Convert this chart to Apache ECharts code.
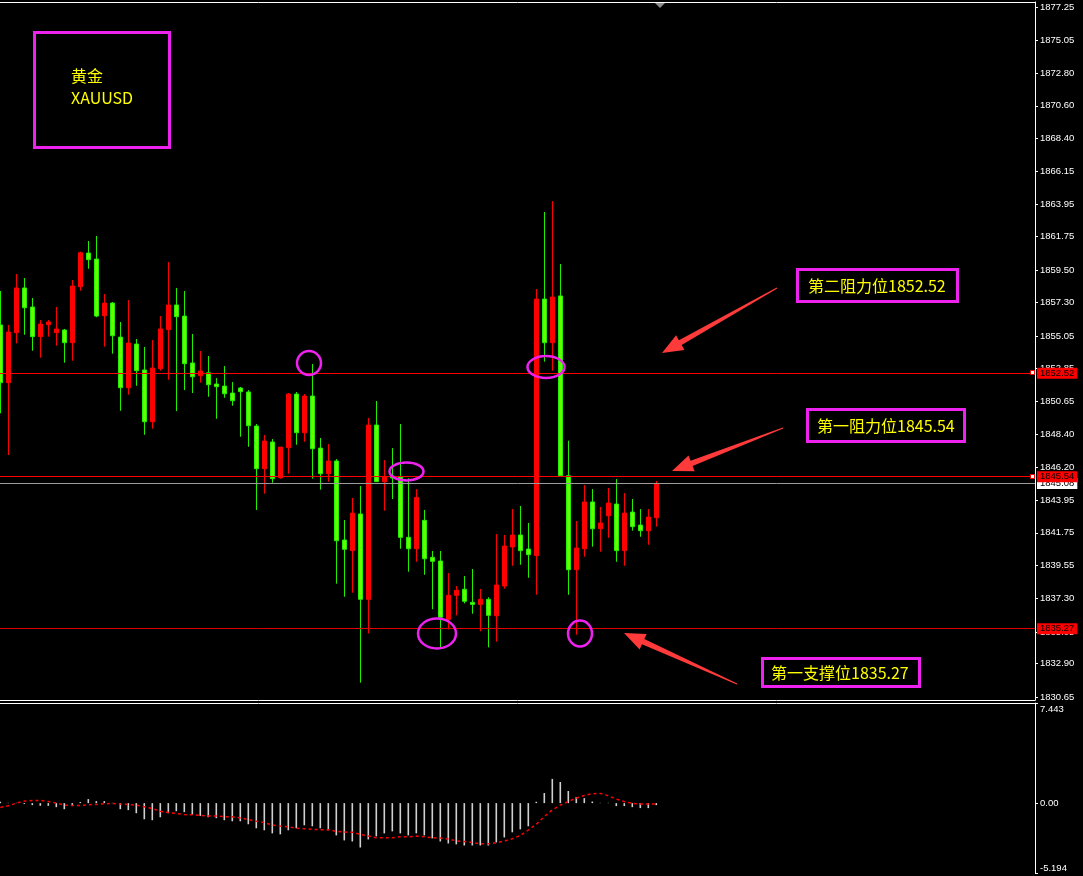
<!DOCTYPE html>
<html><head><meta charset="utf-8">
<script src="https://cdn.jsdelivr.net/npm/echarts@6/dist/echarts.min.js"></script>
<style>html,body{margin:0;padding:0;background:#000;overflow:hidden}#c{width:1083px;height:876px}</style>
</head><body><div id="c"></div>
<script>
// ---- data (price in USD) ----
const opens  = [1855.79,1851.89,1855.27,1858.29,1857.00,1855.00,1855.81,1855.27,1855.45,1854.59,
                1858.37,1860.65,1860.24,1856.41,1857.27,1854.97,1851.55,1854.50,1852.75,1849.25,
                1852.83,1855.47,1857.14,1856.39,1853.22,1852.36,1852.56,1851.80,1851.66,1851.19,
                1851.53,1851.26,1848.96,1846.08,1847.88,1845.47,1847.50,1851.12,1848.51,1850.99,
                1847.47,1845.74,1846.60,1841.26,1840.54,1843.02,1837.25,1849.03,1845.20,1845.58,
                1845.52,1841.44,1840.67,1842.59,1840.09,1839.84,1835.90,1837.52,1837.93,1837.05,
                1836.91,1837.25,1836.14,1838.15,1840.79,1841.60,1840.65,1840.20,1857.54,1854.59,
                1857.75,1845.60,1839.25,1840.67,1843.83,1842.02,1842.90,1843.69,1840.54,1843.15,
                1842.27,1841.89,1842.77];
const closes = [1851.89,1855.31,1858.29,1856.95,1855.00,1855.85,1855.99,1855.52,1854.59,1858.42,
                1860.67,1860.20,1856.39,1857.27,1855.06,1851.55,1854.57,1852.70,1849.25,1852.88,
                1855.52,1857.14,1856.35,1853.17,1852.29,1852.68,1851.75,1851.62,1851.14,1850.67,
                1851.28,1848.98,1846.08,1847.95,1845.40,1847.54,1851.12,1848.51,1850.99,1847.43,
                1845.74,1846.60,1841.21,1840.63,1843.08,1837.25,1849.03,1845.20,1845.54,1845.45,
                1841.44,1840.67,1844.14,1839.99,1839.82,1836.04,1837.52,1837.86,1837.12,1836.91,
                1837.25,1836.17,1838.22,1840.85,1841.60,1840.54,1840.27,1857.54,1854.59,1857.68,
                1845.60,1839.25,1840.72,1843.83,1842.02,1842.41,1843.76,1840.54,1843.08,1842.16,
                1841.89,1842.81,1845.08];
const lows   = [1849.82,1847.00,1854.55,1855.13,1854.05,1853.58,1855.00,1854.39,1853.24,1853.37,
                1858.10,1859.59,1856.31,1854.32,1853.85,1849.99,1851.08,1851.68,1848.37,1848.78,
                1852.70,1852.09,1849.97,1851.39,1851.19,1851.89,1850.94,1849.45,1850.87,1850.33,
                1848.24,1847.56,1843.29,1844.39,1845.13,1845.40,1845.74,1847.70,1847.90,1845.40,
                1844.66,1845.20,1838.31,1837.43,1837.70,1831.62,1834.95,1845.20,1843.24,1844.03,
                1840.67,1839.12,1839.79,1838.91,1836.58,1834.01,1835.22,1836.17,1836.98,1836.28,
                1835.09,1834.01,1834.39,1837.97,1839.52,1839.59,1838.71,1837.56,1853.31,1852.70,
                1845.60,1837.56,1834.86,1840.13,1840.81,1840.47,1841.41,1839.79,1839.52,1841.89,
                1841.48,1840.94,1842.16];
const highs  = [1858.08,1855.79,1859.23,1858.96,1857.61,1856.12,1856.12,1857.00,1855.52,1858.83,
                1860.74,1861.46,1861.80,1857.88,1857.34,1855.99,1857.47,1854.84,1854.30,1854.77,
                1856.39,1860.04,1858.29,1858.08,1855.18,1854.03,1853.69,1852.20,1853.01,1851.93,
                1851.60,1851.39,1849.10,1848.35,1848.08,1847.54,1851.19,1851.26,1851.12,1853.15,
                1848.15,1847.74,1846.73,1842.61,1844.10,1844.91,1849.50,1850.65,1846.66,1847.47,
                1849.10,1845.43,1844.70,1843.29,1840.52,1840.52,1839.03,1838.15,1838.83,1839.30,
                1837.95,1837.39,1841.66,1841.60,1843.35,1843.56,1842.41,1858.22,1863.42,1864.16,
                1859.91,1847.97,1842.54,1844.97,1844.70,1843.49,1844.77,1845.38,1844.43,1844.03,
                1843.35,1843.35,1845.25];
const macdHist = [0.10,0.02,0.02,-0.07,-0.15,-0.20,-0.20,-0.30,-0.45,-0.22,
                  0.08,0.30,0.15,0.15,0.02,-0.45,-0.52,-0.75,-1.20,-1.27,
                  -1.05,-0.75,-0.60,-0.67,-0.85,-0.95,-1.05,-1.12,-1.27,-1.35,
                  -1.35,-1.57,-1.87,-2.02,-2.25,-2.32,-2.02,-1.87,-1.65,-1.72,
                  -1.87,-2.02,-2.40,-2.77,-2.85,-3.30,-2.70,-2.47,-2.25,-2.10,
                  -2.25,-2.40,-2.25,-2.40,-2.62,-2.85,-3.00,-3.07,-3.15,-3.15,
                  -3.15,-3.15,-2.92,-2.55,-2.17,-1.95,-1.72,0.10,0.75,1.80,
                  1.57,0.90,0.45,0.37,0.12,0.02,0.02,-0.22,-0.22,-0.30,
                  -0.37,-0.37,-0.15];
const macdSignal = [-0.32,-0.20,0.00,0.15,0.20,0.20,0.12,0.00,-0.15,-0.17,
                    -0.17,-0.12,-0.10,-0.05,-0.02,-0.07,-0.10,-0.15,-0.27,-0.40,
                    -0.60,-0.70,-0.77,-0.85,-0.87,-0.92,-0.95,-0.95,-1.00,-1.02,
                    -1.10,-1.22,-1.35,-1.45,-1.62,-1.70,-1.77,-1.87,-1.90,-1.95,
                    -1.97,-1.97,-2.10,-2.15,-2.17,-2.32,-2.45,-2.57,-2.57,-2.57,
                    -2.50,-2.50,-2.45,-2.50,-2.57,-2.60,-2.67,-2.80,-2.85,-2.92,
                    -3.02,-3.02,-2.95,-2.82,-2.65,-2.40,-2.00,-1.57,-1.00,-0.50,
                    -0.15,0.12,0.37,0.57,0.70,0.72,0.55,0.30,0.12,-0.02,
                    -0.07,-0.07,-0.07];
const priceTicks = [1877.25,1875.05,1872.80,1870.60,1868.40,1866.15,1863.95,1861.75,1859.50,1857.30,
                    1855.05,1852.85,1850.65,1848.40,1846.20,1843.95,1841.75,1839.55,1837.30,1835.05,
                    1832.90,1830.65];
const macdTicks = [7.443, 0, -5.194];
const lastPrice = 1845.08;
const resistance2 = 1852.52, resistance1 = 1845.54, support1 = 1835.27;
const symbolName = ['黄金', 'XAUUSD'];
const noteRes2 = '第二阻力位1852.52';
const noteRes1 = '第一阻力位1845.54';
const noteSup1 = '第一支撑位1835.27';
// bar-index window of the chart (the chart is shifted: empty space on the right)
const barMin = -0.0375, barMax = 129.3375;

const candles = opens.map((o, i) => [i, o, closes[i], lows[i], highs[i]]);
const histData = macdHist.map((v, i) => [i, v]);
const sigData = macdSignal.map((v, i) => [i, v]);

const chart = echarts.init(document.getElementById('c'), null, {renderer: 'canvas'});
const axisFont = {color: '#ffffff', fontSize: 9.5, fontFamily: 'Liberation Sans'};
const magenta = '#ee22ee';
const hiddenX = (grid, pos, line) => ({
  type: 'value', gridIndex: grid, position: pos, min: barMin, max: barMax,
  axisLine: {show: line, onZero: false, lineStyle: {color: '#ffffff', width: 1}},
  axisTick: {show: false}, axisLabel: {show: false}, splitLine: {show: false}
});

function lvl(v, color, bg) {
  return {yAxis: v, lineStyle: {color: color, width: 1, type: 'solid'},
    label: {show: true, position: 'end', distance: 2, formatter: () => v.toFixed(2),
      backgroundColor: bg, color: '#000', padding: [1, 3, 0, 3], fontSize: 9.5, fontFamily: 'Liberation Sans'}};
}

chart.setOption({
  backgroundColor: '#000',
  animation: false,
  grid: [
    {left: 0, right: 48, top: 2, height: 698},
    {left: 0, right: 48, top: 703, height: 170}
  ],
  xAxis: [
    hiddenX(0, 'bottom', true),
    hiddenX(1, 'top', true),
    hiddenX(0, 'top', true)
  ],
  yAxis: [
    {type: 'value', gridIndex: 0, position: 'right', min: 1830.45, max: 1877.61, scale: true,
     axisLine: {show: true, onZero: false, lineStyle: {color: '#ffffff'}},
     axisTick: {show: true, length: 3, lineStyle: {color: '#ffffff'}, customValues: priceTicks},
     axisLabel: Object.assign({margin: 5, customValues: priceTicks, formatter: v => v.toFixed(2)}, axisFont),
     splitLine: {show: false}},
    {type: 'value', gridIndex: 1, position: 'right', min: -5.194, max: 7.443,
     axisLine: {show: true, onZero: false, lineStyle: {color: '#ffffff'}},
     axisTick: {show: true, length: 3, lineStyle: {color: '#ffffff'}, customValues: macdTicks},
     axisLabel: Object.assign({margin: 5, customValues: macdTicks,
       formatter: v => v === 0 ? '0.00' : (v > 0 ? '{hi|' + v + '}' : '{lo|' + v + '}'),
       rich: {
         hi: {padding: [12, 0, 0, 0], color: '#ffffff', fontSize: 9.5, fontFamily: 'Liberation Sans'},
         lo: {padding: [0, 0, 10, 0], color: '#ffffff', fontSize: 9.5, fontFamily: 'Liberation Sans'}
       }}, axisFont),
     splitLine: {show: false}}
  ],
  series: [
    {type: 'candlestick', xAxisIndex: 0, yAxisIndex: 0, data: candles, barWidth: 5,
     encode: {x: 0, y: [1, 2, 3, 4]},
     itemStyle: {color: '#ff0000', color0: '#66ff00', borderColor: '#ff0000', borderColor0: '#22ee00', borderWidth: 1},
     markLine: {silent: true, symbol: 'none', animation: false,
       data: [
         lvl(lastPrice, '#9a9a9a', '#ffffff'),
         lvl(resistance2, '#ff0000', '#ff0000'),
         lvl(resistance1, '#ff0000', '#ff0000'),
         lvl(support1, '#e00000', '#ff0000')
       ]}},
    {type: 'bar', xAxisIndex: 1, yAxisIndex: 1, data: histData, barWidth: 1.6,
     itemStyle: {color: '#d0d0d0'}},
    {type: 'line', xAxisIndex: 1, yAxisIndex: 1, data: sigData, symbol: 'none', showSymbol: false,
     lineStyle: {color: '#ff0000', width: 1.5, type: [3, 3]}}
  ]
});

// ---- annotation overlay ----
function arrow(tx, ty, px, py) {
  const dx = px - tx, dy = py - ty, L = Math.hypot(dx, dy);
  const ux = dx / L, uy = dy / L, nx = -uy, ny = ux;
  const hl = 21, hw = 8.5, bx = px - ux * hl, by = py - uy * hl;
  const pts = [
    [tx + nx * 0.6, ty + ny * 0.6], [bx + nx * 2.8, by + ny * 2.8], [bx + nx * hw, by + ny * hw],
    [px, py], [bx - nx * hw, by - ny * hw], [bx - nx * 2.8, by - ny * 2.8], [tx - nx * 0.6, ty - ny * 0.6]
  ];
  return {type: 'polygon', shape: {points: pts}, style: {fill: '#ff3a3a'}, silent: true, z: 100};
}
function ell(cx, cy, rx, ry) {
  return {type: 'ellipse', shape: {cx: cx, cy: cy, rx: rx, ry: ry},
    style: {fill: 'none', stroke: magenta, lineWidth: 2.5}, silent: true, z: 100};
}
function box(x, y, w, h) {
  return {type: 'rect', shape: {x: x, y: y, width: w, height: h},
    style: {fill: '#000', stroke: magenta, lineWidth: 3}, silent: true, z: 100};
}
function txt(x, y, s) {
  return {type: 'text', x: x, y: y, style: {text: s, fill: '#ffff00', font: '16px "Noto Sans CJK SC"',
    textVerticalAlign: 'middle', verticalAlign: 'middle'}, silent: true, z: 101};
}
const yR2 = chart.convertToPixel({yAxisIndex: 0}, resistance2);
const yR1 = chart.convertToPixel({yAxisIndex: 0}, resistance1);
const axisX = chart.convertToPixel({xAxisIndex: 0}, barMax);
function endMark(y) {
  return {type: 'rect', shape: {x: axisX - 4.5, y: Math.round(y) - 2.5, width: 4, height: 4},
    style: {fill: '#ffffff', stroke: '#ff0000', lineWidth: 1}, silent: true, z: 100};
}

chart.setOption({
  graphic: [
    {type: 'polygon', shape: {points: [[655, 3], [665, 3], [660, 8]]}, style: {fill: '#8c8c8c'}, silent: true},
    endMark(yR2), endMark(yR1),
    box(34.5, 32.5, 135, 115), txt(71, 76, symbolName[0]), txt(71, 98, symbolName[1]),
    box(797.5, 269.5, 160, 32), txt(808, 286, noteRes2),
    box(807.5, 409.5, 157, 32), txt(817, 426, noteRes1),
    box(762.5, 658.5, 157, 28), txt(771, 673, noteSup1),
    arrow(777, 288, 662, 353),
    arrow(783, 428, 672, 471),
    arrow(737, 684, 624, 633),
    ell(309, 363, 12, 12),
    ell(406.5, 471.5, 17, 9),
    ell(437, 633.5, 19, 15),
    ell(546, 367, 18.5, 11),
    ell(580, 633.5, 12, 13)
  ]
});
</script>
</body></html>
